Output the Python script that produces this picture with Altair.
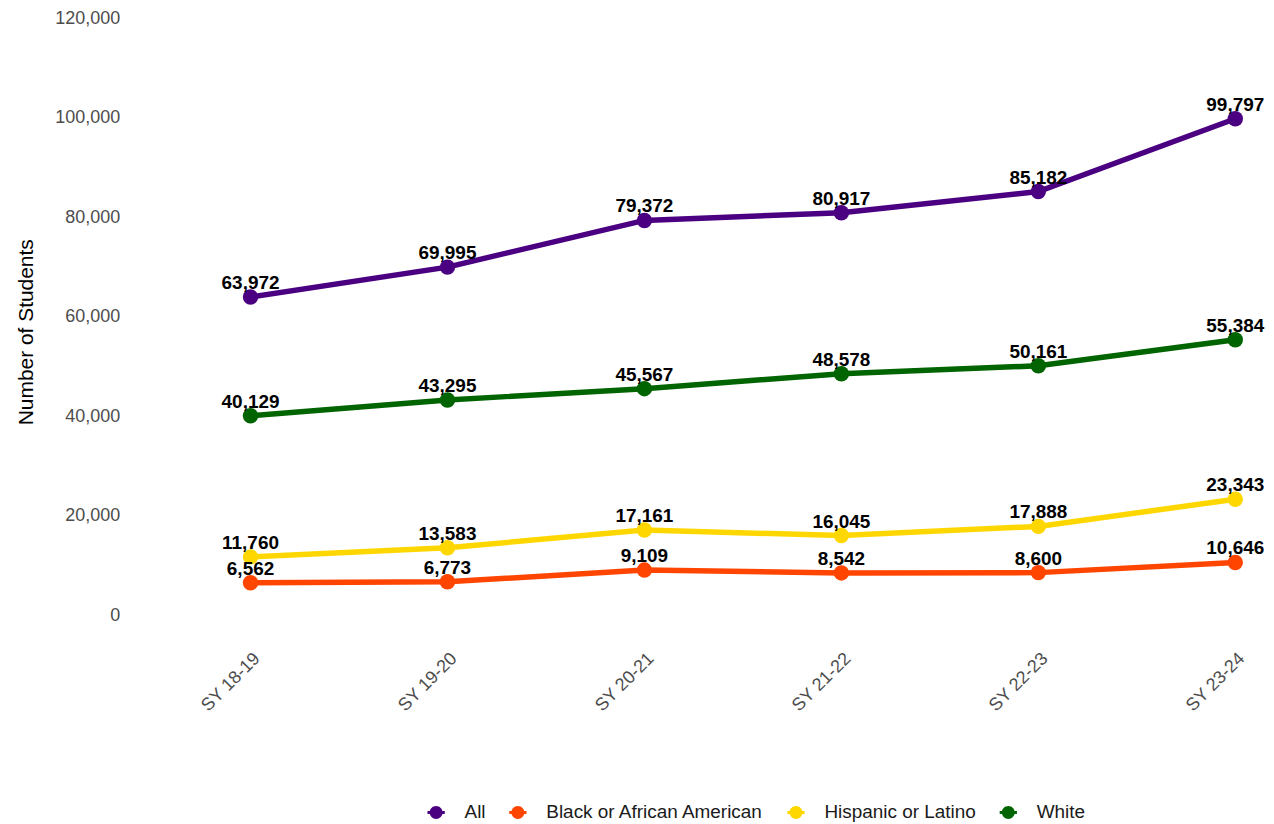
import altair as alt
import pandas as pd

years = ["SY 18-19", "SY 19-20", "SY 20-21", "SY 21-22", "SY 22-23", "SY 23-24"]
groups = ["All", "Black or African American", "Hispanic or Latino", "White"]
all_vals = [63972, 69995, 79372, 80917, 85182, 99797]
black_vals = [6562, 6773, 9109, 8542, 8600, 10646]
hisp_vals = [11760, 13583, 17161, 16045, 17888, 23343]
white_vals = [40129, 43295, 45567, 48578, 50161, 55384]
colors = ["#4B0082", "#FF4500", "#FFD700", "#006400"]

rows = []
for g, vals in zip(groups, [all_vals, black_vals, hisp_vals, white_vals]):
    for y, v in zip(years, vals):
        rows.append({"Year": y, "Group": g, "Students": v})
df = pd.DataFrame(rows)

FONT = "Liberation Sans"
legend_path = ("M-1,-0.18H1V0.18H-1Z "
               "M0,-0.75A0.75,0.75 0 1,1 0,0.75A0.75,0.75 0 1,1 0,-0.75Z")

x = alt.X("Year:N", sort=years, title=None,
          scale=alt.Scale(type="point", padding=0.39, align=0.8),
          axis=alt.Axis(labelAngle=315, labelAlign="right", labelBaseline="top",
                        labelFontSize=18, labelColor="#4d4d4d", labelFont=FONT,
                        ticks=False, domain=False, grid=False, labelPadding=4))
y = alt.Y("Students:Q", title="Number of Students",
          scale=alt.Scale(domain=[-6000, 120000], nice=False, zero=False),
          axis=alt.Axis(values=[0, 20000, 40000, 60000, 80000, 100000, 120000],
                        format=",d", labelFontSize=18, labelColor="#4d4d4d",
                        labelFont=FONT, titleFont=FONT, titleFontSize=21,
                        titleFontWeight="normal", titleColor="#000000",
                        titlePadding=18, ticks=False, domain=False, grid=False,
                        labelPadding=8))
color_scale = alt.Scale(domain=groups, range=colors)

points = alt.Chart(df).mark_point(filled=True, size=240, opacity=1).encode(
    x=x, y=y,
    color=alt.Color("Group:N", scale=color_scale,
                    legend=alt.Legend(title=None, orient="none", direction="horizontal",
                                      legendX=300, legendY=787, columns=4,
                                      symbolType=legend_path, symbolSize=300,
                                      symbolStrokeWidth=0, labelFontSize=19,
                                      labelFont=FONT, labelColor="#1a1a1a",
                                      labelLimit=0, columnPadding=22,
                                      labelOffset=19)))

lines = alt.Chart(df).mark_line(strokeWidth=5.5).encode(
    x=x, y=y, color=alt.Color("Group:N", scale=color_scale, legend=None))

labels = alt.Chart(df).mark_text(fontSize=19, fontWeight="bold", font=FONT,
                                 baseline="alphabetic", dy=-8, color="black").encode(
    x=x, y=y, text=alt.Text("Students:Q", format=",d"))

chart = alt.layer(points, lines, labels).properties(
    width=1142, height=629,
    padding={"left": 7, "top": 0, "right": 0, "bottom": 0},
).configure_view(stroke=None)

chart.save("out.html", embed_options={"renderer": "svg", "actions": False})
